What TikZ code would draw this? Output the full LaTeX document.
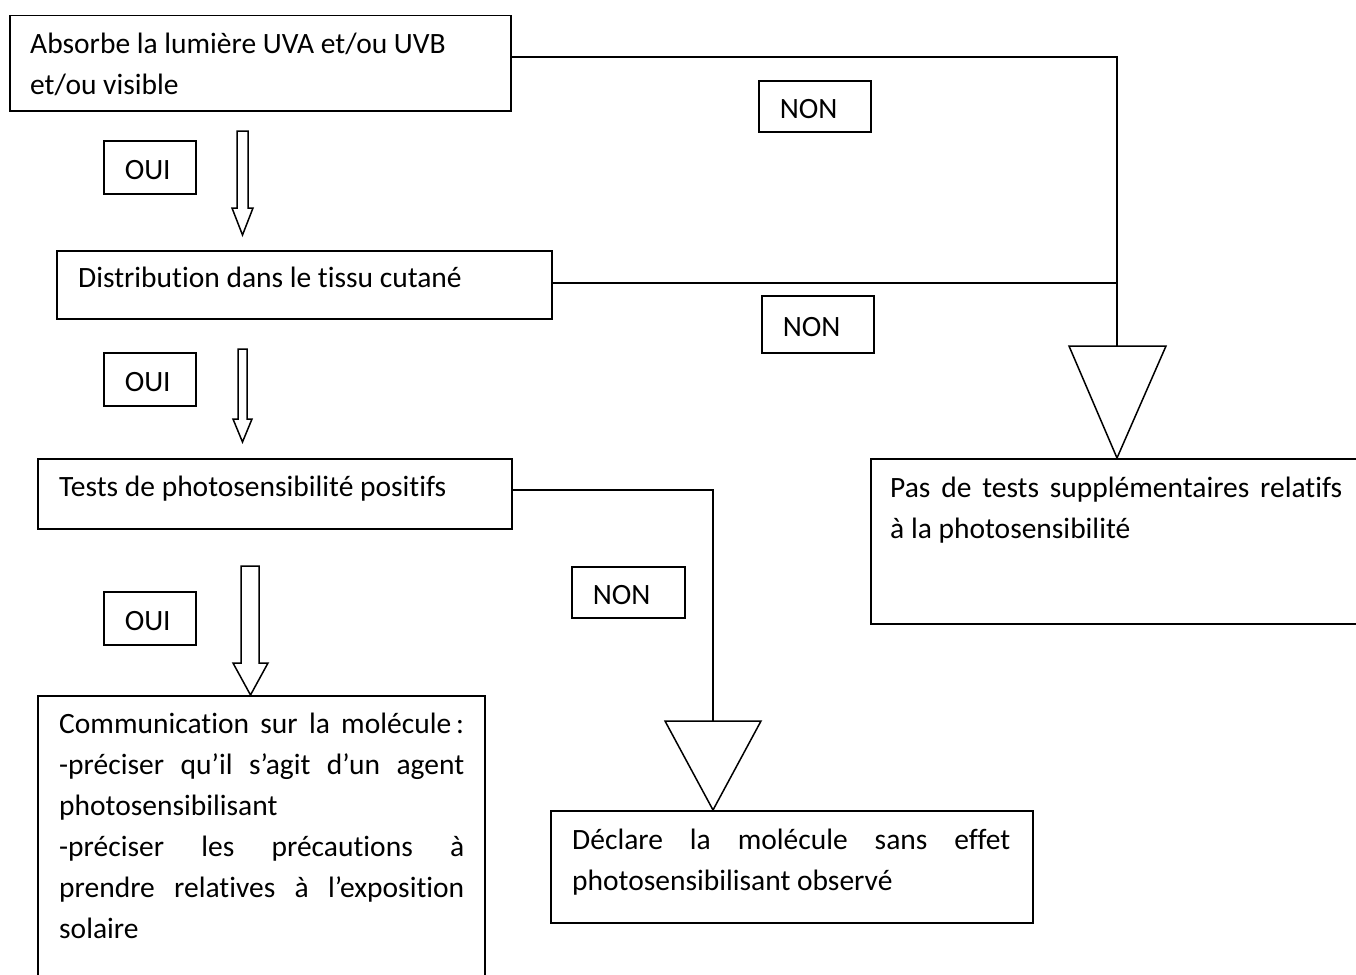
\documentclass[tikz,border=0pt]{standalone}
\usepackage{fontspec}
\setmainfont{Carlito}[Ligatures=NoCommon]
\begin{document}
\begin{tikzpicture}[x=1pt,y=-1pt,
  box/.style={draw, line width=1.5pt, rectangle, inner sep=0pt, anchor=north west},
  txt/.style={anchor=base west, inner sep=0pt, font=\fontsize{29.5}{41}\selectfont, align=justify},
  lbl/.style={draw, line width=1.5pt, anchor=north west, inner ysep=0pt, inner xsep=21pt,
    align=left, text height=25pt, text depth=0pt, font=\fontsize{29.5}{33}\selectfont},
  conn/.style={line width=2pt},
  thinconn/.style={line width=1.5pt},
  hollow/.style={draw, line width=1.5pt, fill=white, line join=miter}]
\clip (0,0) rectangle (1356,974);

% main boxes
\node[box, minimum width=501pt, minimum height=95pt] (b1) at (9,15) {};
\node[txt, text width=470pt] (t1) at (30,53) {Absorbe la lumière UVA et/ou UVB\newline et/ou visible};

\node[box, minimum width=495pt, minimum height=68pt] (b2) at (56,250) {};
\node[txt, text width=460pt] (t2) at (78,287) {Distribution dans le tissu cutané};

\node[box, minimum width=474pt, minimum height=70pt] (b3) at (37,458) {};
\node[txt, text width=440pt] (t3) at (59,496) {Tests de photosensibilité positifs};

\node[box, minimum width=447pt, minimum height=310pt] (b4) at (37,695) {};
\node[txt, text width=405pt] (t4) at (59,733) {Communication sur la molécule\kern5pt:\linebreak
-préciser qu’il s’agit d’un agent\linebreak photosensibilisant\par
-préciser les précautions à\linebreak prendre relatives à l’exposition\linebreak solaire};

\node[box, minimum width=500pt, minimum height=165pt] (b5) at (870,458) {};
\node[txt, text width=452pt] (t5) at (890,497) {Pas de tests supplémentaires relatifs\linebreak à la photosensibilité};

\node[box, minimum width=482pt, minimum height=112pt] (b6) at (550,810) {};
\node[txt, text width=438pt] (t6) at (572,849) {Déclare la molécule sans effet\linebreak photosensibilisant observé};

% labels
\node[lbl, text width=50pt, minimum height=53pt] (oui1) at (103,140) {OUI};
\node[lbl, text width=50pt, minimum height=53pt] (oui2) at (103,352) {OUI};
\node[lbl, text width=50pt, minimum height=53pt] (oui3) at (103,591) {OUI};
\node[lbl, text width=70pt, minimum height=51pt] (non1) at (758,80) {NON};
\node[lbl, text width=70pt, minimum height=57pt] (non2) at (761,295) {NON};
\node[lbl, text width=71pt, minimum height=51pt] (non3) at (571,566) {NON};

% hollow block arrows
\draw[hollow] (237,131) -- (248,131) -- (248,208) -- (253,208) -- (242.5,235) -- (232,208) -- (237,208) -- cycle;
\draw[hollow] (238,349) -- (247,349) -- (247,419) -- (252,419) -- (242.5,442) -- (233,419) -- (238,419) -- cycle;
\draw[hollow] (241,566) -- (259,566) -- (259,663) -- (268,663) -- (250.5,695) -- (233,663) -- (241,663) -- cycle;

% connectors on the right
\coordinate (c1) at (1117,57);
\coordinate (c2) at (1117,283);
\coordinate (tri1top) at (1117,346);
\draw[conn] (b1.east |- c1) -- (c1) -- (tri1top);
\draw[conn] (b2.east |- c2) -- (c2);
\draw[hollow] (1069,346) -- (1166,346) -- (b5.north -| tri1top) -- cycle;

\coordinate (c3a) at (627,490);
\coordinate (c3) at (713,490);
\coordinate (tri2top) at (713,721);
\draw[thinconn] (b3.east |- c3a) -- (c3a);
\draw[conn] (c3a) -- (c3) -- (tri2top);
\draw[hollow] (665,721) -- (761,721) -- (b6.north -| tri2top) -- cycle;
\end{tikzpicture}
\end{document}
